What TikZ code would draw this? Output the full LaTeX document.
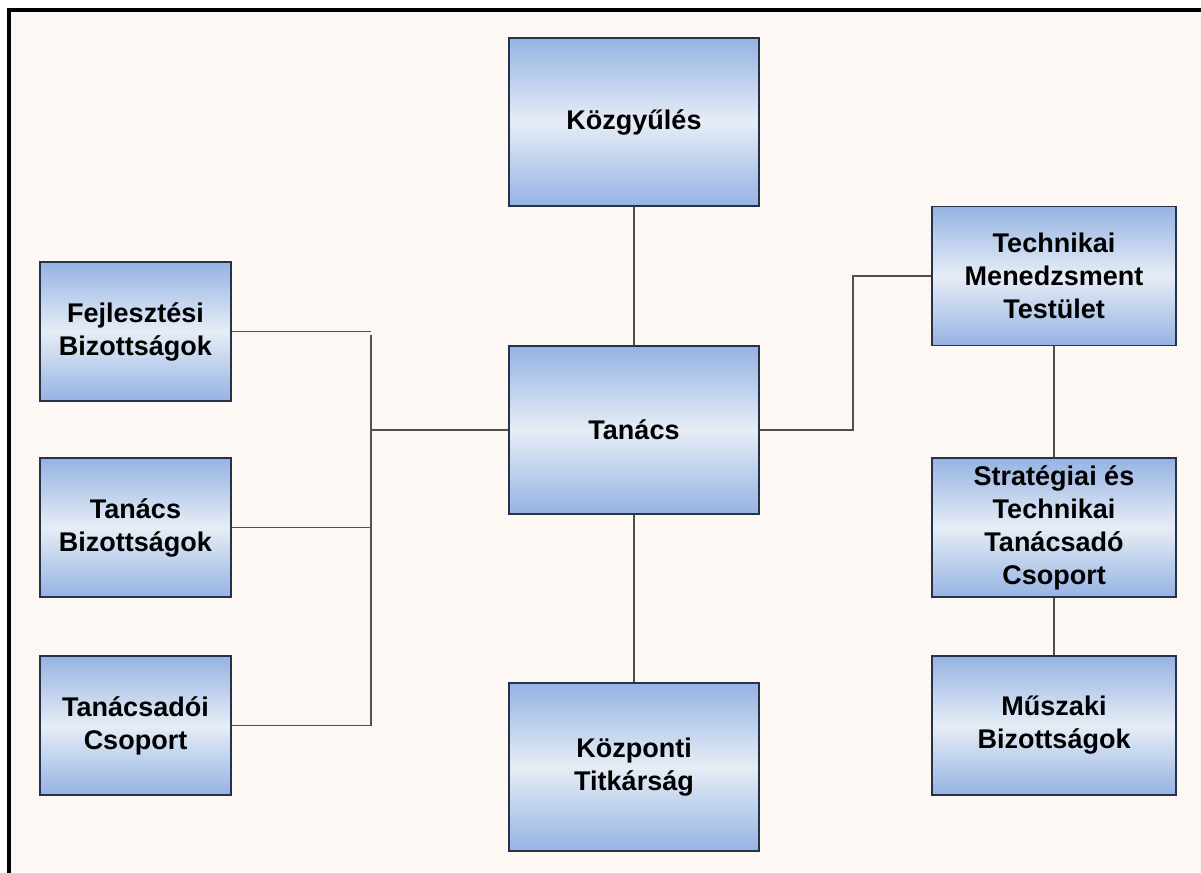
\documentclass[tikz,border=0pt]{standalone}
\usepackage{fontspec}
\setmainfont{Liberation Sans}
\begin{document}
\definecolor{paper}{HTML}{FDF8F3}
\definecolor{boxedge}{HTML}{26324A}
\definecolor{boxdark}{HTML}{95B3E3}
\definecolor{boxlight}{HTML}{E6EDF6}
\definecolor{wire}{HTML}{505050}
\begin{tikzpicture}[x=1pt,y=-1pt,
  orgbox/.style={draw=boxedge, line width=1.5pt, rectangle,
    top color=boxdark, bottom color=boxdark, middle color=boxlight,
    align=center, inner sep=0pt,
    font=\fontsize{27}{33}\selectfont\bfseries},
  centerbox/.style={orgbox, minimum width=250pt, minimum height=168pt},
  leftbox/.style={orgbox, minimum width=191pt, minimum height=139pt},
  rightbox/.style={orgbox, minimum width=244pt, minimum height=139pt},
  wireline/.style={draw=wire, line width=1.5pt}]
  % page and frame
  \useasboundingbox (0,0) rectangle (1201,872);
  \fill[white] (0,0) rectangle (1201,872);
  \fill[paper] (9,10) rectangle (1201,872);
  \draw[line width=4pt, line cap=rect] (9,872) -- (9,10) -- (1201,10);

  % centre column
  \node[centerbox] (kozgy) at (634,122) {Közgyűlés};
  \node[centerbox] (tanacs) at (634,430) {Tanács};
  \node[centerbox] (kozp) at (634,767) {Központi\\Titkárság};

  % left column
  \node[leftbox] (fejl) at (135.5,331.5) {Fejlesztési\\Bizottságok};
  \node[leftbox] (tbiz) at (135.5,527.5) {Tanács\\Bizottságok};
  \node[leftbox] (tcsop) at (135.5,725.5) {Tanácsadói\\Csoport};

  % right column
  \node[rightbox] (tech) at (1054,276) {Technikai\\Menedzsment\\Testület};
  \node[rightbox] (strat) at (1054,527.5) {Stratégiai és\\Technikai\\Tanácsadó\\Csoport};
  \node[rightbox] (musz) at (1054,725.5) {Műszaki\\Bizottságok};

  % bus points and elbow
  \coordinate (busA) at (371,331.5);
  \coordinate (busTop) at (371,335);
  \coordinate (busMid) at (371,430);
  \coordinate (busB) at (371,527.5);
  \coordinate (busC) at (371,725.5);
  \coordinate (elbow) at (853,430);

  % connectors
  \draw[wireline] (fejl.east) -- (busA);
  \draw[wireline] (busTop) -- (busC);
  \draw[wireline] (tbiz.east) -- (busB);
  \draw[wireline] (tcsop.east) -- (busC);
  \draw[wireline] (busMid) -- (tanacs.west);
  \draw[wireline] (kozgy.south) -- (tanacs.north);
  \draw[wireline] (tanacs.south) -- (kozp.north);
  \draw[wireline] (tanacs.east) -- (elbow) |- (tech.west);
  \draw[wireline] (tech.south) -- (strat.north);
  \draw[wireline] (strat.south) -- (musz.north);
\end{tikzpicture}
\end{document}
